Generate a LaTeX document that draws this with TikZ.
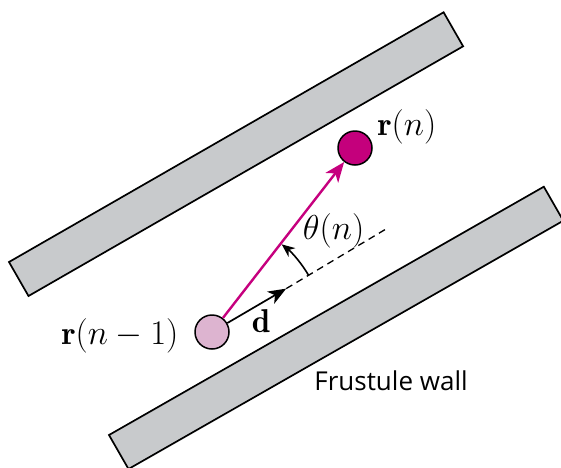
\documentclass[tikz,border=0pt]{standalone}
\usepackage{fontspec}
\newfontfamily\labelfont{Open Sans}
\usetikzlibrary{arrows.meta}
\definecolor{wallgray}{HTML}{C8CACC}
\definecolor{magentadark}{HTML}{C4007C}
\definecolor{pinklight}{HTML}{DDB4D0}
\definecolor{arrowmag}{HTML}{C6007E}
\begin{document}
\begin{tikzpicture}[x=0.5pt,y=-0.5pt,
  wall/.style={fill=wallgray,draw=black,line width=0.85pt,line join=miter},
  particle/.style={circle,draw=black,line width=0.75pt,minimum size=17pt,inner sep=0pt},
  mathlabel/.style={inner sep=0pt,font=\fontsize{16.5}{18}\selectfont},
  magarrow/.style={draw=arrowmag,line width=1.2pt,-{Stealth[length=10pt,width=8pt,inset=2.8pt]}},
  darrow/.style={draw=black,line width=0.85pt,-{Stealth[length=9pt,width=7pt,inset=2.5pt]}},
  dashline/.style={draw=black,line width=0.65pt,dash pattern=on 3.5pt off 2.5pt},
  anglearc/.style={draw=black,line width=0.8pt,-{Stealth[length=6.5pt,width=5.5pt,inset=2pt]}}
]
\useasboundingbox (0,0) rectangle (561,467);
\clip (0,0) rectangle (561,467);
\fill[white] (0,0) rectangle (561,467);

% walls
\draw[wall] (9,262) -- (443.6,12.3) -- (463.1,46.3) -- (28.5,296) -- cycle;
\draw[wall] (109,435) -- (543.8,186.7) -- (563.3,220.7) -- (128.5,469) -- cycle;

% particles
\node[particle,fill=pinklight] (p1) at (212,332) {};
\node[particle,fill=magentadark] (p2) at (355,148) {};

% direction d and dashed continuation
\coordinate (dtip) at (286.2,288.6);
\coordinate (dend) at (386,229);
\draw[dashline] (dtip) -- (dend);
\draw[darrow] (p1) -- (dtip);

% step vector
\draw[magarrow] (p1) -- (p2);

% angle
\draw[anglearc] (p1.center) ++(-30.3:112) arc[start angle=-30.3, end angle=-51.5, radius=112];

% labels
\node[mathlabel] (lrn) at (407,127) {$\mathbf{r}(n)$};
\node[mathlabel] (lrn1) at (120,336) {$\mathbf{r}(n-1)$};
\node[mathlabel] (ld) at (261,321) {$\mathbf{d}$};
\node[mathlabel] (lth) at (333.6,231) {$\theta(n)$};
\node[inner sep=0pt,anchor=base west,font=\labelfont\fontsize{13}{15}\selectfont] (lwall) at (314,390) {Frustule wall};
\end{tikzpicture}
\end{document}
